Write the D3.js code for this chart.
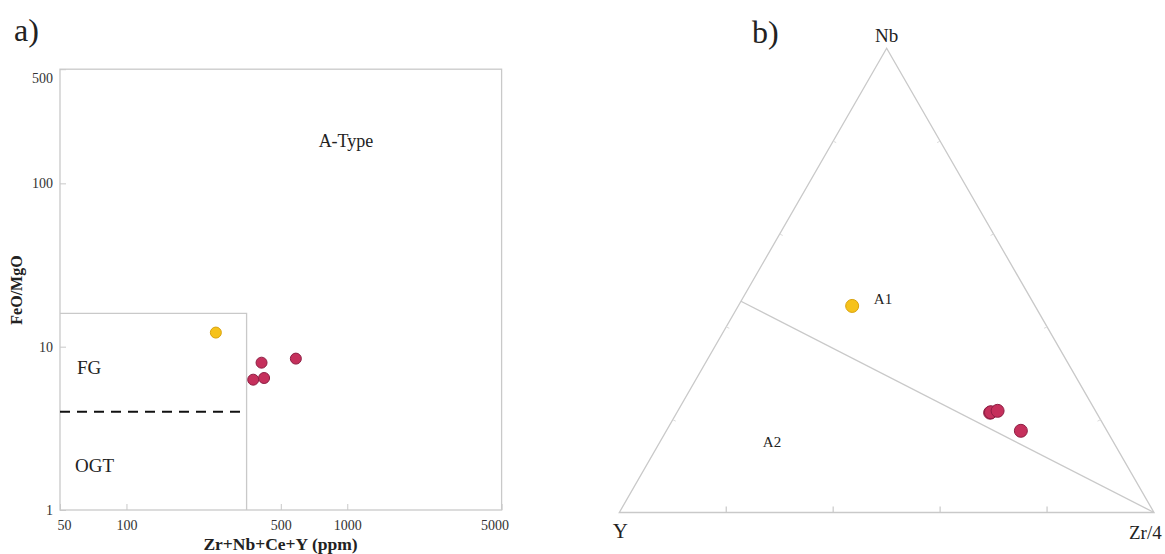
<!DOCTYPE html>
<html>
<head>
<meta charset="utf-8">
<script src="https://cdn.jsdelivr.net/npm/d3@7"></script>
<style>
    body { margin: 0; background: #fff; }
    svg text { font-family: "Liberation Serif", "DejaVu Serif", serif; }
</style>
</head>
<body>
<div id="chart-area"></div>
<script>

// Data - panel a (Whalen et al. discrimination)
let sumHfse = [254, 409, 585, 375, 420];
let feoMgo = [12.2, 7.98, 8.45, 6.28, 6.43];
let sampleGroup = ["yellow", "red", "red", "red", "red"];

let xTicks = [50, 100, 500, 1000, 5000];
let yTicks = [1, 10, 100, 500];

// field boundaries: FG box (350 ppm, 16) and FG/OGT split at 4
let fgLimitX = 350;
let fgLimitY = 16;
let ogtLimitY = 4;

// Data - panel b (Nb, Y, Zr/4 fractions)
let ternNb = [0.445, 0.215, 0.216, 0.219, 0.176];
let ternY = [0.342, 0.199, 0.197, 0.183, 0.161];
let ternZr = [0.213, 0.586, 0.587, 0.598, 0.663];
let ternGroup = ["yellow", "red", "red", "red", "red"];

// A1 / A2 boundary: from Nb-Y edge to Zr/4 apex
let boundaryNb = [0.455, 0];
let boundaryZr = [0, 1];

let edgeTicks = [0.2, 0.4, 0.6, 0.8];

let fillColor = {yellow: "#f6c21b", red: "#c5305c"};
let strokeColor = {yellow: "#d9a20c", red: "#8e1f44"};

let svg = d3.select("#chart-area").append("svg")
    .attr("width", 1165)
    .attr("height", 554);

// ---------------- Panel a ----------------

let x = d3.scaleLog()
    .domain([50, 5000])
    .range([60, 501.6]);

let y = d3.scaleLog()
    .domain([1, 500])
    .range([510, 69.2]);

let gridColor = "#c9c9c9";

svg.append("rect")
    .attr("x", x(50))
    .attr("y", y(500))
    .attr("width", x(5000) - x(50))
    .attr("height", y(1) - y(500))
    .attr("fill", "none")
    .attr("stroke", gridColor)
    .attr("stroke-width", 1.3);

let xAxis = d3.axisBottom(x)
    .tickValues(xTicks)
    .tickFormat(d3.format("d"))
    .tickSizeInner(-6)
    .tickSizeOuter(0)
    .tickPadding(10);

let yAxis = d3.axisLeft(y)
    .tickValues(yTicks)
    .tickFormat(d3.format("d"))
    .tickSizeInner(-6)
    .tickSizeOuter(0)
    .tickPadding(7);

let xAxisGroup = svg.append("g")
    .attr("class", "x-axis axis")
    .attr("transform", "translate(0," + y(1) + ")")
    .call(xAxis);

let yAxisGroup = svg.append("g")
    .attr("class", "y-axis axis")
    .attr("transform", "translate(" + x(50) + ",0)")
    .call(yAxis);

svg.selectAll(".axis .domain").remove();
svg.selectAll(".axis line").attr("stroke", gridColor);
svg.selectAll(".axis text")
    .attr("fill", "#333")
    .style("font-size", "14px")
    .style("font-family", "Liberation Serif, serif");

// nudge edge labels like the original
xAxisGroup.selectAll(".tick text")
    .attr("dx", d => d === 50 ? 4 : d === 5000 ? -7 : 0);
yAxisGroup.selectAll(".tick text")
    .attr("dy", d => d === 500 ? "0.95em" : "0.32em");

// FG box
svg.append("path")
    .attr("d", d3.line()([[x(50), y(fgLimitY)], [x(fgLimitX), y(fgLimitY)], [x(fgLimitX), y(1)]]))
    .attr("fill", "none")
    .attr("stroke", gridColor)
    .attr("stroke-width", 1.3);

// FG / OGT dashed split
svg.append("line")
    .attr("x1", x(50))
    .attr("x2", x(fgLimitX))
    .attr("y1", y(ogtLimitY))
    .attr("y2", y(ogtLimitY))
    .attr("stroke", "#111")
    .attr("stroke-width", 2)
    .attr("stroke-dasharray", "10,7");

// Field labels
svg.append("text").attr("x", 346).attr("y", 147)
    .attr("text-anchor", "middle").style("font-size", "18px").attr("fill", "#222")
    .text("A-Type");
svg.append("text").attr("x", 77).attr("y", 374)
    .style("font-size", "19px").attr("fill", "#222")
    .text("FG");
svg.append("text").attr("x", 75).attr("y", 472)
    .style("font-size", "19px").attr("fill", "#222")
    .text("OGT");

// Axis titles
svg.append("text")
    .attr("x", 280.5)
    .attr("y", 550)
    .attr("text-anchor", "middle")
    .style("font-size", "17.5px")
    .style("font-weight", "bold")
    .attr("fill", "#222")
    .text("Zr+Nb+Ce+Y (ppm)");

svg.append("text")
    .attr("transform", "translate(22,290) rotate(-90)")
    .attr("text-anchor", "middle")
    .style("font-size", "16px")
    .style("font-weight", "bold")
    .attr("fill", "#222")
    .text("FeO/MgO");

svg.append("text").attr("x", 14).attr("y", 41)
    .style("font-size", "32px").attr("fill", "#222")
    .text("a)");

// Sample points
let pointsA = sumHfse.map((v, i) => ({x: v, y: feoMgo[i], g: sampleGroup[i]}));

svg.selectAll(".point-a")
    .data(pointsA)
    .enter().append("circle")
    .attr("class", "point-a")
    .attr("cx", d => x(d.x))
    .attr("cy", d => y(d.y))
    .attr("r", 5.5)
    .attr("fill", d => fillColor[d.g])
    .attr("stroke", d => strokeColor[d.g])
    .attr("stroke-width", 1);

// ---------------- Panel b ----------------

// base position follows Zr/4 + Nb/2, height follows Nb
let tx = d3.scaleLinear()
    .domain([0, 1])
    .range([619.3, 1154]);

let ty = d3.scaleLinear()
    .domain([0, 1])
    .range([512.5, 48.3]);

function ternPoint(nb, zr) {
    return [tx(zr + nb / 2), ty(nb)];
}

let apexNb = ternPoint(1, 0),
    apexY = ternPoint(0, 0),
    apexZr = ternPoint(0, 1);

svg.append("path")
    .attr("d", d3.line()([apexNb, apexY, apexZr]) + "Z")
    .attr("fill", "none")
    .attr("stroke", gridColor)
    .attr("stroke-width", 1.3);

// Edge ticks
let tickLen = 6;
edgeTicks.forEach(t => {
    // bottom edge (Y - Zr/4)
    let p = ternPoint(0, t);
    svg.append("line")
        .attr("x1", p[0]).attr("y1", p[1])
        .attr("x2", p[0]).attr("y2", p[1] - tickLen)
        .attr("stroke", gridColor).attr("stroke-width", 1.2);

    // left edge (Y - Nb)
    let q = ternPoint(t, 0);
    svg.append("line")
        .attr("x1", q[0]).attr("y1", q[1])
        .attr("x2", q[0] + 3).attr("y2", q[1] + 1.5)
        .attr("stroke", "#dcdcdc").attr("stroke-width", 1);

    // right edge (Zr/4 - Nb)
    let r = ternPoint(t, 1 - t);
    svg.append("line")
        .attr("x1", r[0]).attr("y1", r[1])
        .attr("x2", r[0] - 3).attr("y2", r[1] + 1.5)
        .attr("stroke", "#dcdcdc").attr("stroke-width", 1);
});

// A1 / A2 boundary
svg.append("path")
    .attr("d", d3.line()(boundaryNb.map((nb, i) => ternPoint(nb, boundaryZr[i]))))
    .attr("fill", "none")
    .attr("stroke", gridColor)
    .attr("stroke-width", 1.3);

// Vertex labels
svg.append("text").attr("x", apexNb[0]).attr("y", 42)
    .attr("text-anchor", "middle").style("font-size", "19px").attr("fill", "#222")
    .text("Nb");
svg.append("text").attr("x", apexY[0] + 1).attr("y", 538)
    .attr("text-anchor", "middle").style("font-size", "21px").attr("fill", "#222")
    .text("Y");
svg.append("text").attr("x", 1129).attr("y", 539)
    .style("font-size", "19px").attr("fill", "#222")
    .text("Zr/4");

svg.append("text").attr("x", 883).attr("y", 304)
    .attr("text-anchor", "middle").style("font-size", "15px").attr("fill", "#222")
    .text("A1");
svg.append("text").attr("x", 772).attr("y", 447)
    .attr("text-anchor", "middle").style("font-size", "15px").attr("fill", "#222")
    .text("A2");

svg.append("text").attr("x", 752).attr("y", 43)
    .style("font-size", "32px").attr("fill", "#222")
    .text("b)");

// Sample points
let pointsB = ternNb.map((nb, i) => ({nb: nb, y: ternY[i], zr: ternZr[i], g: ternGroup[i]}));

svg.selectAll(".point-b")
    .data(pointsB)
    .enter().append("circle")
    .attr("class", "point-b")
    .attr("cx", d => ternPoint(d.nb, d.zr)[0])
    .attr("cy", d => ternPoint(d.nb, d.zr)[1])
    .attr("r", 6.5)
    .attr("fill", d => fillColor[d.g])
    .attr("stroke", d => strokeColor[d.g])
    .attr("stroke-width", 1);

</script>
</body>
</html>
